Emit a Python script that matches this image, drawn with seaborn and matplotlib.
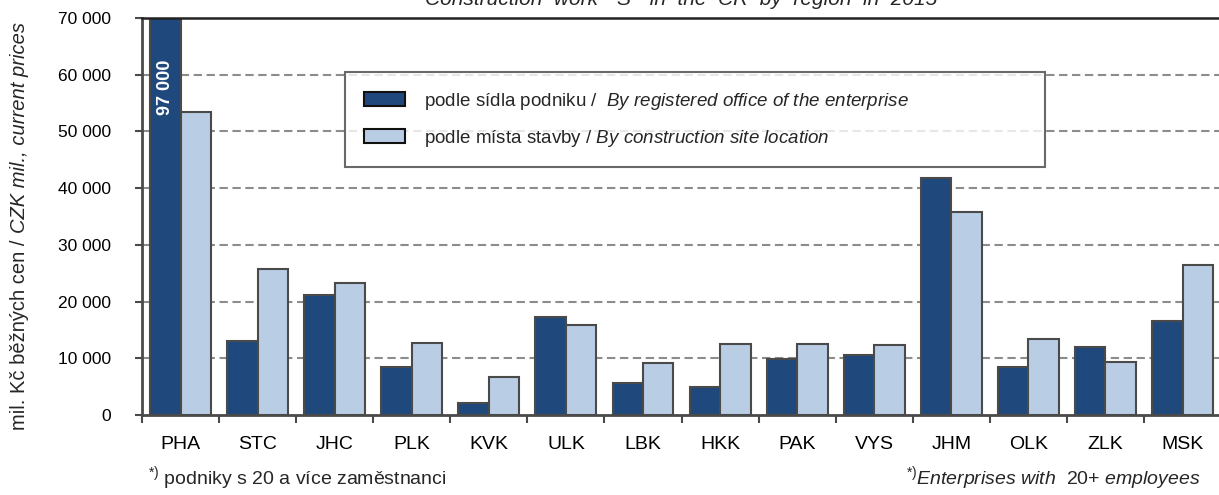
import matplotlib
matplotlib.use("Agg")
import matplotlib.pyplot as plt
import seaborn as sns
import pandas as pd
from matplotlib.ticker import FuncFormatter, FixedLocator
from matplotlib.patches import Patch

# ---- data ----
regions = ["PHA", "STC", "JHC", "PLK", "KVK", "ULK", "LBK", "HKK",
           "PAK", "VYS", "JHM", "OLK", "ZLK", "MSK"]
by_office = [97000, 13100, 21200, 8500, 2200, 17300, 5700, 5000,
             9900, 10600, 41850, 8500, 12000, 16600]
by_site = [53400, 25700, 23300, 12750, 6750, 15900, 9200, 12450,
           12450, 12400, 35850, 13400, 9300, 26400]
series_names = [
    r"podle sídla podniku /  $\mathit{By\ registered\ office\ of\ the\ enterprise}$",
    r"podle místa stavby / $\mathit{By\ construction\ site\ location}$",
]
y_ticks = [0, 10000, 20000, 30000, 40000, 50000, 60000, 70000]
title = "Construction  work  \"S\"  in  the  CR  by  region  in  2015"
ylabel_parts = ["mil. Kč běžných cen / ", "CZK mil., current prices"]
note_cz = r"$^{*)}$ podniky s 20 a více zaměstnanci"
note_en = r"$^{*)}\mathit{Enterprises\ with\ \ 20{+}\ employees}$"

colors = ["#1F497D", "#B9CDE5"]
edge = "#4A4A4A"

sns.set_theme(style="white")
plt.rcParams["font.family"] = ["Liberation Sans", "DejaVu Sans"]
plt.rcParams["mathtext.fontset"] = "custom"
plt.rcParams["mathtext.rm"] = "Liberation Sans"
plt.rcParams["mathtext.it"] = "Liberation Sans:italic"
plt.rcParams["mathtext.bf"] = "Liberation Sans:bold"

df = pd.DataFrame({
    "region": regions * 2,
    "value": by_office + by_site,
    "series": [series_names[0]] * len(regions) + [series_names[1]] * len(regions),
})

W, H = 1219, 495
fig = plt.figure(figsize=(W / 100, H / 100), dpi=100)
ax = fig.add_axes([142 / W, 1 - 415 / H, 14 * 77.08 / W, (415 - 18) / H])

sns.barplot(data=df, x="region", y="value", hue="series", hue_order=series_names,
            palette=colors, saturation=1, width=0.79, edgecolor=edge, linewidth=1.5,
            ax=ax, legend=False, errorbar=None)

ax.set_xlim(-0.5, len(regions) - 0.5)
ax.set_ylim(0, 70000)
ax.set_yticks(y_ticks)
ax.yaxis.set_major_formatter(FuncFormatter(lambda v, p: f"{int(v):,}".replace(",", " ")))
ax.set_xlabel("")
ax.set_ylabel("")

for y in y_ticks[1:-1]:
    ax.axhline(y, color="#8C8C8C", lw=1.5, ls=(0, (4, 2.2)), zorder=0)

ax.spines["right"].set_visible(False)
ax.spines["top"].set_color("#222222")
ax.spines["top"].set_linewidth(1.8)
for s in ["left", "bottom"]:
    ax.spines[s].set_color(edge)
    ax.spines[s].set_linewidth(2)

ax.tick_params(axis="y", which="major", direction="out", length=5, width=1.5,
               color=edge, labelsize=12.5, pad=17, left=True)
ax.tick_params(axis="x", which="major", length=0, labelsize=14, pad=15)
ax.xaxis.set_minor_locator(FixedLocator([i - 0.5 for i in range(len(regions) + 1)]))
ax.tick_params(axis="x", which="minor", direction="out", length=6, width=1.5,
               color=edge, bottom=True)
for lab in ax.get_yticklabels() + ax.get_xticklabels():
    lab.set_color("#000000")

# clipped value label inside the PHA bar
ax.text(0 - 0.79 / 4, 57700, f"{by_office[0]:,}".replace(",", " "), rotation=90,
        color="white", fontsize=13, fontweight="bold", ha="center", va="center")

handles = [Patch(facecolor=c, edgecolor="#111111", linewidth=1.5) for c in colors]
leg = fig.legend(handles, series_names, loc="upper left",
                 bbox_to_anchor=(345 / W, 1 - 72 / H, 700 / W, 0),
                 mode="expand", fontsize=13.5,
                 frameon=True, fancybox=False, edgecolor="#444444",
                 handlelength=2.2, handleheight=0.8, handletextpad=1.0,
                 labelspacing=0.85, borderpad=1.0, borderaxespad=0)
leg.get_frame().set_linewidth(1.5)

# y-axis label: regular + italic parts, stacked bottom-to-top
renderer = fig.canvas.get_renderer()
label_x = 20 / W
texts = []
for part, style in zip(ylabel_parts, ["normal", "italic"]):
    t = fig.text(label_x, 0, part, rotation=90, ha="center", va="bottom",
                 fontsize=14.5, style=style)
    texts.append(t)
heights = [t.get_window_extent(renderer).height for t in texts]
total = sum(heights)
y_start = (H - 226) - total / 2
for t, h in zip(texts, heights):
    t.set_y(y_start / H)
    y_start += h

fig.text(681 / W, 1 - 5 / H, title, ha="center", va="baseline",
         fontsize=15, style="italic")
fig.text(148 / W, 1 - 478 / H, note_cz, ha="left", va="center", fontsize=14)
fig.text(1200 / W, 1 - 478 / H, note_en, ha="right", va="center", fontsize=14)

fig.savefig("out.png", dpi=100)
